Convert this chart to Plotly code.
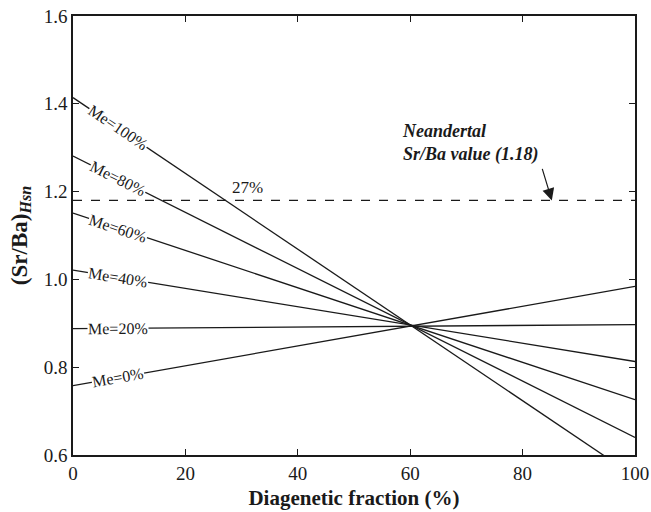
import math
import plotly.graph_objects as go

# ---- data ----
me_labels = ["Me=100%", "Me=80%", "Me=60%", "Me=40%", "Me=20%", "Me=0%"]
x_ends = [0, 100]
y_at_0 = [1.414, 1.281, 1.151, 1.021, 0.888, 0.758]
y_at_100 = [0.551, 0.640, 0.726, 0.813, 0.897, 0.984]
neandertal_value = 1.18
crossing_label = "27%"
crossing_x = 27
x_ticks = [0, 20, 40, 60, 80, 100]
y_ticks = [0.6, 0.8, 1.0, 1.2, 1.4, 1.6]

# ---- layout geometry ----
W, H = 651, 512
ML, MR, MT, MB = 73, 16, 16, 57
XR = [0, 100]
YR = [0.6, 1.6]
pw = W - ML - MR
ph = H - MT - MB

SERIF = "Liberation Serif, Times New Roman, serif"
INK = "#1a1a1a"

fig = go.Figure()

for lab, a, b in zip(me_labels, y_at_0, y_at_100):
    fig.add_trace(go.Scatter(x=x_ends, y=[a, b], mode="lines",
                             line=dict(color=INK, width=1.3),
                             showlegend=False, hoverinfo="skip"))

fig.add_trace(go.Scatter(x=XR, y=[neandertal_value, neandertal_value], mode="lines",
                         line=dict(color=INK, width=1.2, dash="dash"),
                         showlegend=False, hoverinfo="skip"))

annotations = []
label_x = 8
for lab, a, b in zip(me_labels, y_at_0, y_at_100):
    yl = a + (b - a) * label_x / (XR[1] - XR[0])
    dy_px = (a - b) / (YR[1] - YR[0]) * ph
    ang = math.degrees(math.atan2(dy_px, pw))
    annotations.append(dict(x=label_x, y=yl, text=lab, showarrow=False,
                            textangle=ang, bgcolor="white", borderpad=0,
                            font=dict(family=SERIF, size=16, color=INK),
                            xanchor="center", yanchor="middle"))

annotations.append(dict(x=crossing_x + 4, y=neandertal_value, text=crossing_label,
                        showarrow=False, xanchor="center", yanchor="bottom", yshift=1,
                        font=dict(family=SERIF, size=17, color=INK)))

annotations.append(dict(x=58.2, y=1.31,
                        text="<b><i>Neandertal<br>Sr/Ba value (1.18)</i></b>",
                        showarrow=False, xanchor="left", yanchor="middle", align="left",
                        font=dict(family=SERIF, size=18, color=INK)))

annotations.append(dict(x=85.2, y=neandertal_value, text="", showarrow=True,
                        ax=-10, ay=-33, arrowhead=2, arrowsize=2, arrowwidth=1.2,
                        arrowcolor=INK))

fig.update_layout(
    width=W, height=H,
    margin=dict(l=ML, r=MR, t=MT, b=MB),
    paper_bgcolor="white", plot_bgcolor="white",
    annotations=annotations,
    font=dict(family=SERIF, color=INK),
)

axis_common = dict(showgrid=False, zeroline=False, showline=True, linecolor=INK,
                   linewidth=1.5, mirror="ticks", ticks="inside", ticklen=6,
                   tickwidth=1.2, tickcolor=INK, automargin=False,
                   tickfont=dict(family=SERIF, size=19, color=INK))

fig.update_xaxes(range=XR, tickvals=x_ticks, ticktext=[str(v) for v in x_ticks],
                 title=dict(text="<b>Diagenetic fraction (%)</b>", standoff=8,
                            font=dict(family=SERIF, size=21, color=INK)),
                 **axis_common)
fig.update_yaxes(range=YR, tickvals=y_ticks, ticktext=[f"{v:.1f}" for v in y_ticks],
                 title=dict(text="<b>(Sr/Ba)<sub><i>Hsn</i></sub></b>", standoff=10,
                            font=dict(family=SERIF, size=23, color=INK)),
                 **axis_common)

fig.write_html("out.html", config={"displayModeBar": False},
               post_script="document.body.style.margin='0';")
